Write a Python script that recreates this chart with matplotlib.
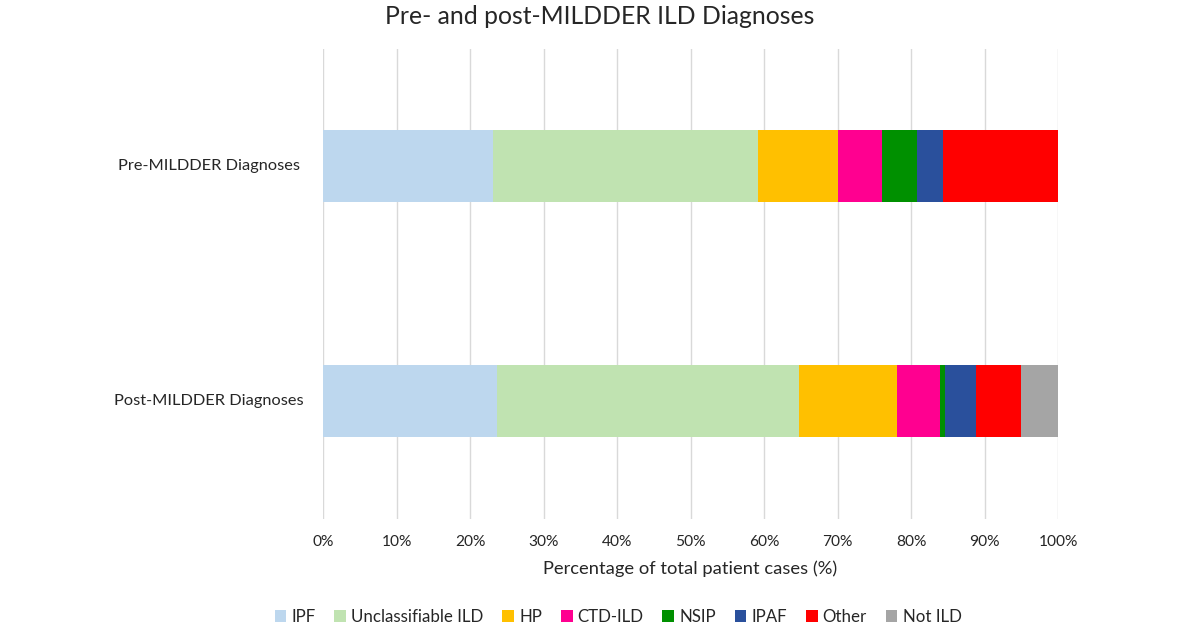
import matplotlib
matplotlib.use("Agg")
import matplotlib.pyplot as plt
from matplotlib.ticker import FuncFormatter, MultipleLocator
from matplotlib.patches import Patch

plt.rcParams['font.family'] = ['Lato', 'DejaVu Sans']

categories = ["Pre-MILDDER Diagnoses", "Post-MILDDER Diagnoses"]
series = ["IPF", "Unclassifiable ILD", "HP", "CTD-ILD", "NSIP", "IPAF", "Other", "Not ILD"]
ipf = [23.1, 23.7]
unclassifiable = [36.1, 41.0]
hp = [10.9, 13.4]
ctd_ild = [5.9, 5.9]
nsip = [4.8, 0.6]
ipaf = [3.6, 4.2]
other = [15.6, 6.2]
not_ild = [0.0, 5.0]
values = [ipf, unclassifiable, hp, ctd_ild, nsip, ipaf, other, not_ild]
colors = ["#BDD7EE", "#C0E3B1", "#FFC000", "#FF0090", "#009000", "#2A509C", "#FF0000", "#A5A5A5"]

fig = plt.figure(figsize=(12, 6.28), dpi=100)
ax = fig.add_axes([323/1200, 1 - 518.5/628, (1058-323)/1200, (518.5-48.5)/628])

ypos = [0, 1]
left = [0.0, 0.0]
for name, vals, c in zip(series, values, colors):
    ax.barh(ypos, vals, left=left, color=c, height=0.306, label=name, zorder=3)
    left = [l + v for l, v in zip(left, vals)]

ax.set_ylim(1.5, -0.5)
ax.set_xlim(0, 100)
ax.xaxis.set_major_locator(MultipleLocator(10))
ax.xaxis.set_major_formatter(FuncFormatter(lambda v, p: f"{int(round(v))}%"))
ax.grid(axis='x', color='#D9D9D9', linewidth=1.0, zorder=0)
for s in ax.spines.values():
    s.set_visible(False)
ax.tick_params(axis='both', length=0, labelsize=11.2, colors='#262626')
ax.tick_params(axis='x', pad=12)
ax.set_yticks(ypos)
ax.set_yticklabels([])
for y, lab in zip(ypos, categories):
    ax.text(-0.155, y, lab, transform=ax.get_yaxis_transform(), ha='center', va='center',
            fontsize=11.8, color='#262626')

ax.set_xlabel("Percentage of total patient cases (%)", fontsize=13.2, color='#262626', labelpad=8)
fig.text(0.5, 1 - 16/628, "Pre- and post-MILDDER ILD Diagnoses", ha='center', va='center',
         fontsize=17.8, color='#262626')

handles = [Patch(facecolor=c, label=n) for n, c in zip(series, colors)]
fig.legend(handles=handles, loc='center', bbox_to_anchor=(0.515, 1 - 617/628), ncol=8,
           frameon=False, fontsize=12.2, handlelength=0.7, handleheight=0.7,
           handletextpad=0.3, columnspacing=1.1, labelcolor='#262626')

fig.savefig("out.png", dpi=100)
